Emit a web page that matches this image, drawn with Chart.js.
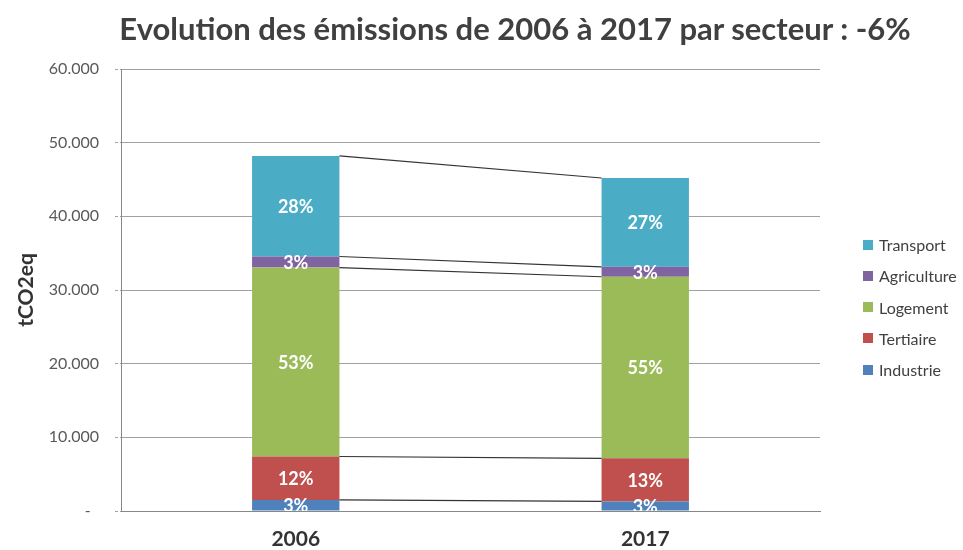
<!DOCTYPE html>
<html>
<head>
<meta charset="utf-8">
<script src="https://cdn.jsdelivr.net/npm/chart.js@4"></script>
<style>
  body { margin: 0; background: #fff; }
  #wrap { position: relative; width: 963px; height: 550px; }
  #title { position: absolute; left: 0; width: 1030px; top: 8px; text-align: center; font-family: Lato, sans-serif; font-weight: bold; font-size: 31px; line-height: 40px; color: #404040; white-space: nowrap; }
  #legend { position: absolute; left: 863px; top: 229px; font-family: Lato, sans-serif; font-size: 16px; color: #404040; }
  #legend div { height: 31.25px; display: flex; align-items: center; white-space: nowrap; }
  #legend span.box { display: inline-block; width: 10px; height: 10px; margin-right: 6px; }
</style>
</head>
<body>
<div id="wrap">
  <canvas id="chart" width="963" height="550"></canvas>
  <div id="title"></div>
  <div id="legend"></div>
</div>
<script>
// Data
const categories = ['2006', '2017'];
const industrie = [1500, 1300];
const tertiaire = [5900, 5850];
const logement = [25650, 24650];
const agriculture = [1500, 1350];
const transport = [13650, 12050];
const yMax = 60000;
const yStep = 10000;

const chartTitle = 'Evolution des émissions de 2006 à 2017 par secteur : -6%';
const seriesNames = ['Industrie', 'Tertiaire', 'Logement', 'Agriculture', 'Transport'];
const seriesColors = ['#4F81BD', '#C0504D', '#9BBB59', '#8064A2', '#4BACC6'];
const seriesData = [industrie, tertiaire, logement, agriculture, transport];

const totals = categories.map((c, i) => seriesData.reduce((s, d) => s + d[i], 0));

// Percent labels inside the segments
const percentLabels = {
    id: 'percentLabels',
    afterDatasetsDraw(chart) {
        const ctx = chart.ctx;
        const area = chart.chartArea;
        ctx.save();
        ctx.beginPath();
        ctx.rect(area.left, area.top, area.right - area.left, area.bottom - area.top);
        ctx.clip();
        ctx.font = 'bold 18px Lato';
        ctx.fillStyle = '#fff';
        ctx.textAlign = 'center';
        ctx.textBaseline = 'middle';
        chart.data.datasets.forEach((ds, di) => {
            chart.getDatasetMeta(di).data.forEach((bar, i) => {
                let pct = Math.round(ds.data[i] / totals[i] * 100);
                ctx.fillText(pct + '%', bar.x, (bar.y + bar.base) / 2 + 1);
            });
        });
        ctx.restore();
    }
};

// Lines joining the top of each segment between the two bars
const seriesLines = {
    id: 'seriesLines',
    afterDatasetsDraw(chart) {
        const ctx = chart.ctx;
        ctx.save();
        ctx.strokeStyle = '#333';
        ctx.lineWidth = 1.2;
        chart.data.datasets.forEach((ds, di) => {
            let bars = chart.getDatasetMeta(di).data;
            for (let i = 0; i < bars.length - 1; i++) {
                let a = bars[i], b = bars[i + 1];
                ctx.beginPath();
                ctx.moveTo(a.x + a.width / 2, a.y);
                ctx.lineTo(b.x - b.width / 2, b.y);
                ctx.stroke();
            }
        });
        ctx.restore();
    }
};

let ctx = document.getElementById('chart').getContext('2d');
new Chart(ctx, {
    type: 'bar',
    data: {
        labels: categories,
        datasets: seriesNames.map((name, i) => ({
            label: name,
            data: seriesData[i],
            backgroundColor: seriesColors[i],
            categoryPercentage: 1,
            barPercentage: 0.25
        }))
    },
    options: {
        responsive: false,
        animation: false,
        layout: { padding: { left: 0, right: 143, top: 69, bottom: 0 } },
        plugins: {
            legend: { display: false },
            tooltip: { enabled: false },
            title: { display: false }
        },
        scales: {
            x: {
                stacked: true,
                grid: { display: false, drawTicks: false },
                border: { display: true, color: '#888', width: 1 },
                ticks: { color: '#333', font: { family: 'Lato', size: 21, weight: 'bold' }, padding: 16 },
                afterFit(scale) { scale.height = 39; }
            },
            y: {
                stacked: true,
                min: 0,
                max: yMax,
                grid: {
                    color: '#a0a0a0',
                    borderDash: [3, 2],
                    tickLength: 6,
                    tickColor: '#a0a0a0',
                    tickBorderDash: [3, 2]
                },
                border: { display: true, color: '#888', width: 1 },
                ticks: {
                    stepSize: yStep,
                    color: '#595959',
                    padding: 16,
                    font: { family: 'Lato', size: 16 },
                    callback: v => v === 0 ? '-  ' : v.toLocaleString('de-DE')
                },
                title: {
                    display: true,
                    text: 'tCO2eq',
                    color: '#333',
                    font: { family: 'Lato', size: 21, weight: 'bold' },
                    padding: { top: 14, bottom: 0 }
                },
                afterFit(scale) { scale.width = 121; }
            }
        }
    },
    plugins: [seriesLines, percentLabels]
});

document.getElementById('title').textContent = chartTitle;

// Legend (Transport on top)
let legend = document.getElementById('legend');
for (let i = seriesNames.length - 1; i >= 0; i--) {
    let row = document.createElement('div');
    row.innerHTML = `<span class="box" style="background:${seriesColors[i]}"></span>${seriesNames[i]}`;
    legend.appendChild(row);
}
</script>
</body>
</html>
